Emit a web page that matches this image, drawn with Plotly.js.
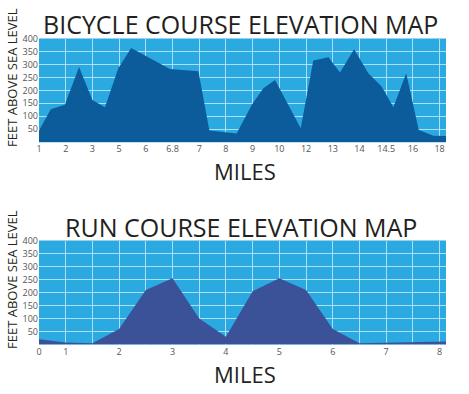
<!DOCTYPE html>
<html>
<head>
<meta charset="utf-8">
<script src="https://cdn.plot.ly/plotly-3.0.1.min.js"></script>
<style>html,body{margin:0;padding:0;background:#fff;}#chart{width:469px;height:394px;}</style>
</head>
<body>
<div id="chart"></div>
<script>
// Tick labels (evenly spaced positions on the axis)
const bikeTickLabels = ["1","2","3","5","6","6.8","7","8","9","10","12","13","14","14.5","16","18"];
const runTickLabels  = ["0","1","","2","","3","","4","","5","","6","","7","","8"];
const elevTicks = [50,100,150,200,250,300,350,400];

// Bicycle course profile (x = position along the tick scale, y = feet)
const bikeX = [0, 0.44, 0.97, 1.5, 2.0, 2.47, 2.97, 3.45, 4.9, 5.97, 6.38, 7.4, 7.97, 8.4, 8.84, 9.8, 10.27, 10.84, 11.27, 11.8, 12.33, 12.83, 13.27, 13.75, 14.22, 14.77, 15.24];
const bikeY = [45, 127, 144, 290, 163, 135, 285, 363, 282, 274, 45, 34, 144, 208, 240, 54, 315, 328, 269, 359, 266, 215, 135, 266, 47, 25, 24];

// Run course profile
const runX = [0, 1, 2, 3, 4, 5, 6, 7, 8, 9, 10, 11, 12, 13, 14, 15, 15.24];
const runY = [20, 8, 5, 60, 210, 255, 100, 30, 205, 255, 210, 60, 5, 8, 10, 12, 12];

const tickPos = bikeTickLabels.map((_, i) => i);

const bgColor = '#2BAAE1';
const gridColor = 'rgba(205,238,252,0.8)';
const textColor = '#231F20';
const fontFam = '"Open Sans", "Noto Sans", sans-serif';

const xL = 39/469, xR = 446/469;
const d1 = [1 - 142.2/394, 1 - 38.5/394];
const d2 = [1 - 344.5/394, 1 - 240.5/394];

function xa(labels, anchor) {
  return {
    domain: [xL, xR], range: [0, 15.24], anchor: anchor,
    tickvals: tickPos, ticktext: labels,
    showgrid: true, gridcolor: gridColor, gridwidth: 1,
    zeroline: false, showline: false, ticks: '', ticklen: 0,
    tickfont: {family: fontFam, size: 9, color: '#555'},
    fixedrange: true
  };
}
function ya(domain, anchor) {
  return {
    domain: domain, range: [0, 400], anchor: anchor,
    tickvals: elevTicks,
    showgrid: true, gridcolor: gridColor, gridwidth: 1,
    zeroline: false, showline: false, ticks: '', ticklen: 0,
    tickfont: {family: fontFam, size: 9, color: '#555'},
    fixedrange: true
  };
}

const traces = [
  {x: bikeX, y: bikeY, xaxis: 'x', yaxis: 'y', type: 'scatter', mode: 'lines',
   fill: 'tozeroy', fillcolor: '#0C5C9C', line: {width: 0, color: '#0C5C9C'}, hoverinfo: 'skip'},
  {x: runX, y: runY, xaxis: 'x2', yaxis: 'y2', type: 'scatter', mode: 'lines',
   fill: 'tozeroy', fillcolor: '#3B5299', line: {width: 0, color: '#3B5299'}, hoverinfo: 'skip'}
];

const ann = (text, x, y, size, angle) => ({
  text: text, x: x, y: y, xref: 'paper', yref: 'paper', showarrow: false,
  xanchor: 'center', yanchor: 'middle', textangle: angle || 0,
  font: {family: fontFam, size: size, color: textColor}
});

const layout = {
  width: 469, height: 394,
  margin: {l: 0, r: 0, t: 0, b: 0},
  paper_bgcolor: '#ffffff',
  showlegend: false,
  xaxis: xa(bikeTickLabels, 'y'),
  yaxis: ya(d1, 'x'),
  xaxis2: xa(runTickLabels, 'y2'),
  yaxis2: ya(d2, 'x2'),
  shapes: [
    {type: 'rect', xref: 'paper', yref: 'paper', x0: xL, x1: xR, y0: d1[0], y1: d1[1], fillcolor: bgColor, line: {width: 0}, layer: 'below'},
    {type: 'rect', xref: 'paper', yref: 'paper', x0: xL, x1: xR, y0: d2[0], y1: d2[1], fillcolor: bgColor, line: {width: 0}, layer: 'below'}
  ],
  annotations: [
    ann('BICYCLE COURSE ELEVATION MAP', 240.5/469, 1 - 24/394, 25),
    ann('MILES', 245/469, 1 - 171/394, 22),
    ann('FEET ABOVE SEA LEVEL', 12/469, 1 - 78/394, 13, -90),
    ann('RUN COURSE ELEVATION MAP', 240.5/469, 1 - 227/394, 25),
    ann('MILES', 245/469, 1 - 374/394, 22),
    ann('FEET ABOVE SEA LEVEL', 12/469, 1 - 280/394, 13, -90)
  ]
};

Plotly.newPlot('chart', traces, layout, {displayModeBar: false, staticPlot: true});
</script>
</body>
</html>
